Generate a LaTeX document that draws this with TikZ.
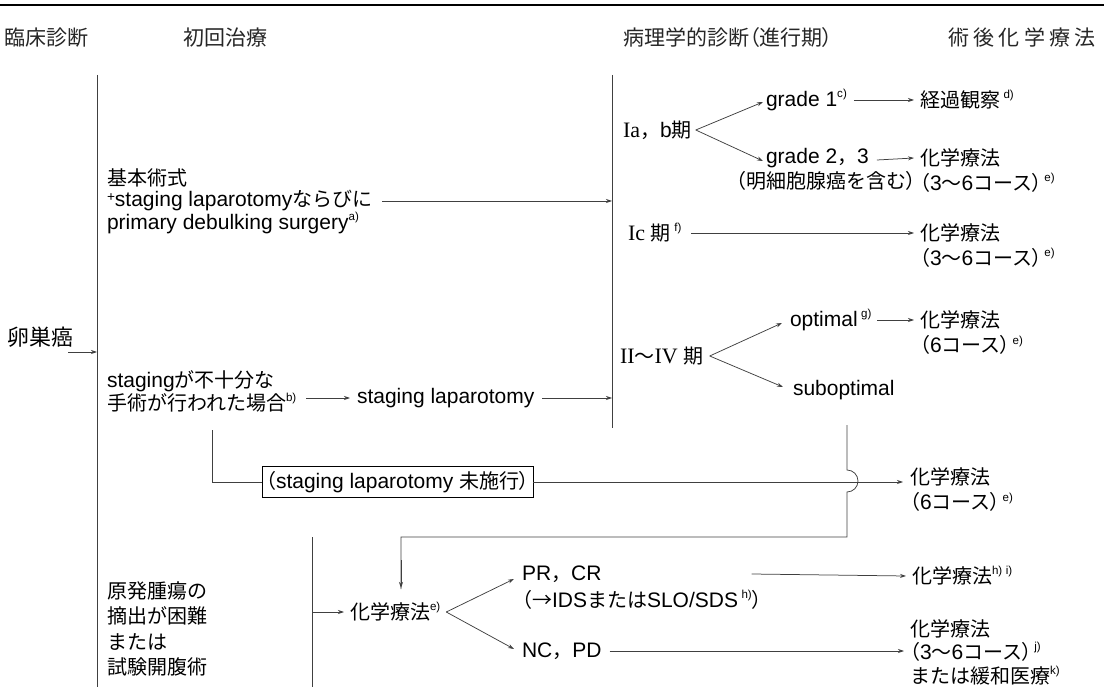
\documentclass[tikz,border=0pt]{standalone}
\usepackage{fontspec}
\setmainfont[Scale=1.05]{Liberation Sans}
\newfontfamily\jp{Noto Sans CJK JP}
\newfontfamily\jpp[RawFeature=+palt]{Noto Sans CJK JP}
\newfontfamily\rom{Liberation Serif}
\usetikzlibrary{arrows.meta}
\newcommand\J[1]{{\jp #1}}
\newcommand\R[1]{{\rom\fontsize{22}{25}\selectfont #1}}
\newcommand\lp{{\jpp （}}
\newcommand\rp{{\jpp ）}\kern2pt}
\newcommand\nt[1]{\raisebox{0.42em}{\fontsize{11}{11}\selectfont #1)}}
\begin{document}
\begin{tikzpicture}[x=1pt,y=-1pt,
  every node/.style={inner sep=0pt, outer sep=0pt, anchor=west, font=\fontsize{20}{25}\selectfont},
  ln/.style={line width=0.75pt, draw=black!75},
  arr/.style={ln, -{Stealth[length=6pt,width=4pt]}},
  head/.style={font=\fontsize{21}{25}\selectfont\jp, text=black!85},
  txt/.style={align=left},
  boxed/.style={draw=black, line width=1pt, inner xsep=4pt, inner ysep=5pt}]
\useasboundingbox (0,0) rectangle (1104,687);
\coordinate (r0) at (0,5); \coordinate (r1) at (1104,5);
\draw[line width=2.2pt] (r0) -- (r1);

% headers
\node[head] (h1) at (5,38) {臨床診断};
\node[head] (h2) at (183,38) {初回治療};
\node[head] (h3) at (623,38) {病理学的診断{\jpp （}進行期{\jpp ）}};
\node[head] (h4) at (948,38) {\makebox[148pt][s]{術\hfill 後\hfill 化\hfill 学\hfill 療\hfill 法}};

% left column
\node[font=\fontsize{22}{25}\selectfont] (ovary) at (8,337) {\J{卵巣癌}};
\coordinate (L0) at (97,75); \coordinate (L1) at (97,687);
\draw[ln] (L0) -- (L1);
\coordinate (ovin) at (97,352);
\draw[arr] ([xshift=-6pt]ovary.east |- ovin) -- (ovin);

% primary surgery
\node[txt, font=\fontsize{20}{21.5}\selectfont] (prim) at (107,201) {\J{基本術式}\\\raisebox{0.25em}{\fontsize{13}{13}\selectfont +}staging laparotomy\J{ならびに}\\primary debulking surgery\nt{a}};
\coordinate (M0) at (612,75); \coordinate (M1) at (612,428);
\draw[ln] (M0) -- (M1);
\draw[arr] ([xshift=10pt]prim.east) -- (M0 |- prim.east);

% stage I a,b
\node (iab) at (623,130) {\R{Ia}\J{，}b\J{期}};
\coordinate (iabo) at ([xshift=4pt]iab.east);
\node (g1) at (766,100) {grade 1\nt{c}};
\node (g23) at (766,158) {grade 2\J{，}3};
\node (g23b) at (736,181) {\lp\J{明細胞腺癌を含む}{\jpp ）}};
\draw[arr] (iabo) -- ([shift={(-3,2)}]g1.west);
\draw[arr] (iabo) -- ([shift={(-3,3)}]g23.west);
\node (kk) at (920,100) {\J{経過観察}\,\nt{d}};
\draw[arr] ([xshift=7pt]g1.east) -- ([xshift=-6pt]kk.west);
\node[txt] (c1) at (920,170.5) {\J{化学療法}\\\lp 3\J{〜}6\J{コース}\rp\nt{e}};
\draw[arr] ([shift={(8,2)}]g23.east) -- ([xshift=-6pt]c1.west |- g23.east);

% stage I c
\node (ic) at (628,233) {\R{Ic}\ \J{期}\,\nt{f}};
\node[txt] (c2) at (920,245.5) {\J{化学療法}\\\lp 3\J{〜}6\J{コース}\rp\nt{e}};
\draw[arr] ([xshift=10pt]ic.east) -- ([xshift=-6pt]c2.west |- ic.east);

% stage II-IV
\node (s24) at (620,356) {\R{II}\J{〜}\R{IV}\ \J{期}};
\coordinate (s24o) at ([xshift=6pt]s24.east);
\node (opt) at (790,320) {optimal\,\nt{g}};
\node (sub) at (793,390) {suboptimal};
\draw[arr] (s24o) -- ([shift={(-8,3)}]opt.west);
\draw[arr] (s24o) -- ([shift={(-10,-3)}]sub.west);
\node[txt] (c3) at (920,333) {\J{化学療法}\\\lp 6\J{コース}\rp\nt{e}};
\draw[arr] ([xshift=6pt]opt.east) -- ([xshift=-6pt]c3.west |- opt.east);

% insufficient staging
\node[txt, font=\fontsize{20}{23}\selectfont] (insuf) at (107,391.5) {staging\J{が不十分な}\\\J{手術が行われた場合}\nt{b}};
\node (slap) at (357,398) {staging laparotomy};
\draw[arr] ([xshift=10pt]insuf.east |- slap.west) -- ([xshift=-7pt]slap.west);
\draw[arr] ([xshift=8pt]slap.east) -- (M0 |- slap.east);

% not performed box
\node[boxed] (nolap) at (262,482) {\lp staging laparotomy \J{未施行}{\jpp ）}};
\coordinate (ins1) at (212,430);
\draw[ln] (ins1) |- (nolap.west);
\node[txt] (c4) at (910,490) {\J{化学療法}\\\lp 6\J{コース}\rp\nt{e}};
\draw[arr] (nolap.east) -- ([xshift=-7pt]c4.west |- nolap.east);

% suboptimal -> chemo (with hop)
\coordinate (hv0) at (847,425);
\coordinate (hv1) at (847,537);
\node (c5) at (350,612) {\J{化学療法}\nt{e}};
\coordinate (c5top) at (401,588);
\draw[ln] (hv0) -- (847,470) arc[start angle=-90, end angle=90, radius=11] -- (hv1) -| ([yshift=-1pt]c5top);
\draw[arr] (401,560) -- (c5top);

% bottom left
\node[txt, font=\fontsize{20}{25.5}\selectfont] (diff) at (107,629) {\J{原発腫瘍の}\\\J{摘出が困難}\\\J{または}\\\J{試験開腹術}};
\coordinate (B0) at (312,537); \coordinate (B1) at (312,687);
\draw[ln] (B0) -- (B1);
\draw[arr] (B0 |- c5.west) -- ([xshift=-6pt]c5.west);

% responses
\coordinate (c5o) at ([xshift=6pt]c5.east);
\node (prcr) at (522,574) {PR\J{，}CR};
\node (ids) at (522,600) {\lp\J{→}IDS\J{または}SLO/SDS\,\nt{h}{\jpp ）}};
\node (ncpd) at (522,651) {NC\J{，}PD};
\draw[arr] (c5o) -- ([shift={(-8,5)}]prcr.west);
\draw[arr] (c5o) -- ([shift={(-8,-2)}]ncpd.west);
\node (c6) at (912,576) {\J{化学療法}\nt{h}\,\nt{i}};
\draw[arr] ([xshift=150pt]prcr.east) -- ([xshift=-6pt]c6.west);
\node[txt, font=\fontsize{20}{23.5}\selectfont] (c7) at (910,652) {\J{化学療法}\\\lp 3\J{〜}6\J{コース}\rp\nt{j}\\\J{または緩和医療}\nt{k}};
\draw[arr] ([xshift=8pt]ncpd.east) -- ([xshift=-6pt]c7.west |- ncpd.east);
\end{tikzpicture}
\end{document}
